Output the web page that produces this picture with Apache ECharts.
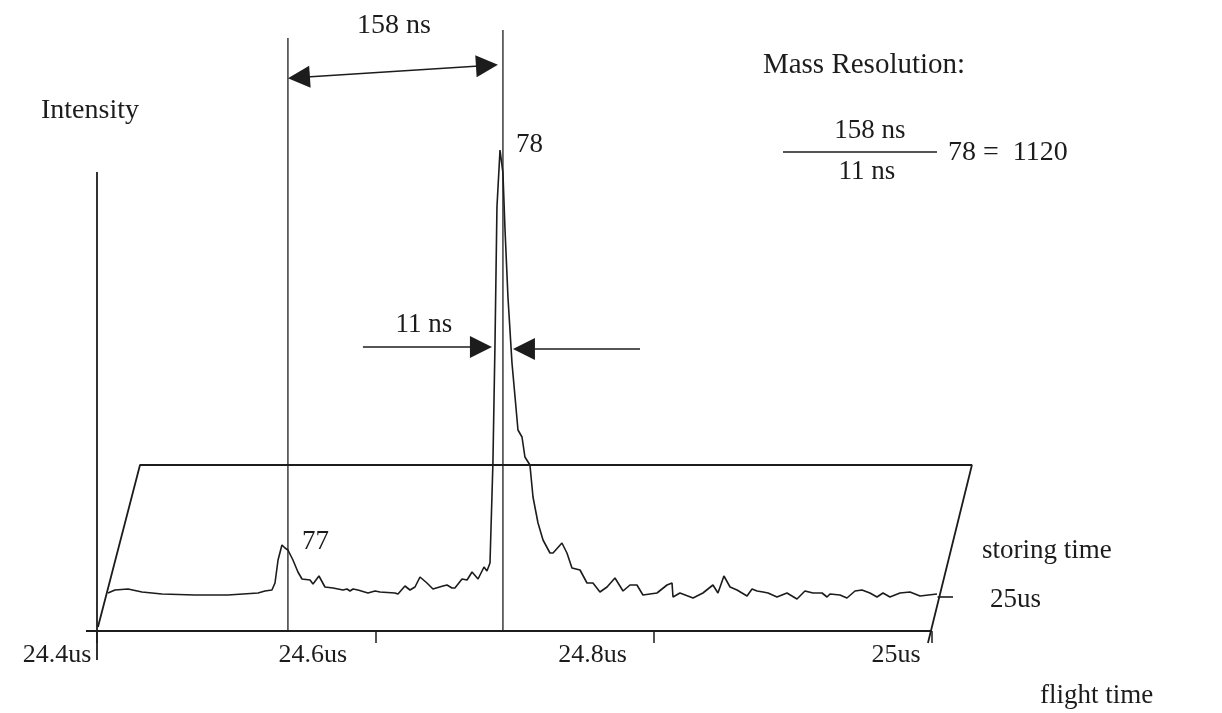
<!DOCTYPE html>
<html><head><meta charset="utf-8">
<script src="https://cdn.jsdelivr.net/npm/echarts@6/dist/echarts.min.js"></script>
<style>html,body{margin:0;padding:0;background:#fff}#c{width:1222px;height:713px}</style>
</head><body><div id="c"></div>
<script>
// ---- data (flight time in us, intensity in arbitrary units) ----
const flightTime = [
  24.4079,24.4129,24.4223,24.4323,24.4467,24.4704,24.4941,24.5157,24.5207,24.5257,
  24.5279,24.5301,24.5329,24.5351,24.5372,24.5408,24.5444,24.5473,24.5480,24.5531,
  24.5552,24.5595,24.5638,24.5696,24.5768,24.5796,24.5818,24.5840,24.5875,24.5947,
  24.5998,24.6034,24.6141,24.6163,24.6213,24.6249,24.6285,24.6321,24.6371,24.6414,
  24.6486,24.6515,24.6551,24.6572,24.6623,24.6659,24.6695,24.6738,24.6781,24.6802,
  24.6824,24.6845,24.6860,24.6874,24.6896,24.6917,24.6932,24.6953,24.6982,24.7004,
  24.7025,24.7054,24.7075,24.7111,24.7133,24.7169,24.7205,24.7255,24.7277,24.7341,
  24.7377,24.7413,24.7471,24.7521,24.7564,24.7614,24.7665,24.7722,24.7780,24.7830,
  24.7880,24.7923,24.8024,24.8096,24.8132,24.8139,24.8189,24.8283,24.8354,24.8426,
  24.8462,24.8505,24.8549,24.8599,24.8671,24.8707,24.8743,24.8786,24.8822,24.8886,
  24.8958,24.9030,24.9087,24.9145,24.9210,24.9246,24.9267,24.9339,24.9389,24.9447,
  24.9497,24.9554,24.9605,24.9648,24.9698,24.9770,24.9842,24.9914,25.0036
];
const intensity = [
  7.6,8.2,8.4,7.8,7.4,7.2,7.2,7.6,8.0,8.2,
  9.6,14.2,17.2,16.6,16.2,14.2,11.8,10.4,10.8,10.2,
  9.4,11.0,8.8,8.6,8.2,8.4,8.0,8.4,8.2,7.6,
  8.0,7.8,7.6,7.4,9.0,8.2,8.8,10.8,9.6,8.4,
  9.0,9.2,8.6,8.6,10.4,10.2,11.8,10.4,12.8,12.0,
  13.6,33.6,57.6,84.8,96.2,91.6,80.2,66.8,53.6,46.8,
  40.2,38.8,34.8,33.2,26.8,21.6,18.2,15.6,15.6,17.6,
  15.6,12.6,12.2,9.6,9.6,7.8,8.8,10.6,8.0,9.2,
  9.2,7.2,7.6,9.2,9.6,6.8,7.6,6.6,7.6,9.2,
  7.6,11.0,8.8,8.2,7.0,8.4,8.0,7.8,7.6,6.8,
  7.6,6.4,8.0,7.6,7.6,6.8,7.4,7.2,6.6,8.0,
  8.2,7.6,6.8,7.6,6.8,7.6,7.8,7.0,7.4
];
const xTicks = [24.4, 24.6, 24.8, 25.0];
const tickLabels = ['24.4us', '24.6us', '24.8us', '25us'];

// pseudo-3D storing-time plane (corners, in axis units)
const frameX = [24.4007, 24.4309, 25.0287, 24.9971];
const frameY = [0.8, 33.2, 33.2, -2.4];
const baselineX = [24.3921, 25.0];
const baselineY = [0, 0];
const intensityAxisX = [24.4, 24.4];
const intensityAxisY = [-5.8, 91.8];
const storingTickX = [25.0040, 25.0151];
const storingTickY = [6.8, 6.8];

// peak marker lines (flight time of the two peaks) and their top ends
const markerTimes = [24.5372, 24.6917];
const markerTops = [118.6, 120.2];

// arrows: [x1, y1, x2, y2] (ends at the centres of the arrowheads)
const arrow158 = [24.5451, 110.7, 24.6802, 113.1];
const arrow11Left = [24.5911, 56.8, 24.6759, 56.8];
const arrow11Right = [24.7902, 56.4, 24.7068, 56.4];

// ---- chart ----
const INK = '#1c1c1c';
const FONT = "'Liberation Serif', 'DejaVu Serif', serif";
const pairs = (xs, ys) => xs.map((x, i) => [x, ys[i]]);
const T = (text, x, y, size, align) => ({
  type: 'text', x: x, y: y, silent: true,
  style: { text: text, fill: INK, font: size + 'px ' + FONT,
           align: align || 'center', textAlign: align || 'center',
           verticalAlign: 'middle', textVerticalAlign: 'middle' }
});
const simpleLine = (data, width, extra) => Object.assign({
  type: 'line', data: data, symbol: 'none', clip: false, silent: true,
  lineStyle: { color: INK, width: width }, z: 2
}, extra || {});
const tickPad = [80, 125, 122, 72];
const tickRich = {};
tickPad.forEach((p, i) => {
  tickRich['t' + i] = { fontSize: 26, fontFamily: FONT, color: INK, padding: [0, p, 0, 0] };
});
const tickIndex = v => {
  let best = 0;
  xTicks.forEach((t, i) => { if (Math.abs(t - v) < Math.abs(xTicks[best] - v)) best = i; });
  return best;
};
const seg = (a, startSymbol) => [
  Object.assign({ coord: [a[0], a[1]] }, startSymbol ? {} : { symbol: 'none' }),
  { coord: [a[2], a[3]] }
];

const chart = echarts.init(document.getElementById('c'), null, { renderer: 'canvas' });
chart.setOption({
  animation: false,
  backgroundColor: '#ffffff',
  grid: { left: 0, right: 0, top: 20, bottom: 82 },
  xAxis: {
    type: 'value', min: 24.3303, max: 25.2084,
    axisLine: { show: false },
    axisTick: { show: true, customValues: xTicks, length: 12, lineStyle: { color: INK, width: 1.5 } },
    axisLabel: {
      customValues: xTicks, margin: 11,
      formatter: v => { const i = tickIndex(v); return '{t' + i + '|' + tickLabels[i] + '}'; },
      rich: tickRich
    },
    splitLine: { show: false }
  },
  yAxis: { type: 'value', min: 0, max: 122.2, show: false },
  graphic: [
    T('158 ns', 394, 26, 28),
    T('Intensity', 90, 111, 28),
    T('Mass Resolution:', 864, 65, 29),
    T('158 ns', 870, 131, 27),
    { type: 'line', silent: true, shape: { x1: 783, y1: 152, x2: 937, y2: 152 },
      style: { stroke: INK, lineWidth: 1.5 } },
    T('11 ns', 867, 172, 27),
    T('78 =  1120', 948, 153, 28, 'left'),
    T('78', 516, 145, 27, 'left'),
    T('11 ns', 424, 325, 27),
    T('77', 302, 542, 27, 'left'),
    T('storing time', 982, 551, 27, 'left'),
    T('25us', 990, 600, 27, 'left'),
    T('flight time', 1040, 696, 27, 'left')
  ],
  series: [
    simpleLine(pairs(intensityAxisX, intensityAxisY), 1.8),
    simpleLine(pairs(baselineX, baselineY), 1.8, {
      markLine: {
        silent: true, animation: false,
        symbol: ['triangle', 'triangle'],
        symbolSize: 22,
        lineStyle: { color: INK, width: 1.6, type: 'solid' },
        label: { show: false },
        data: [
          seg(arrow158, true),
          seg(arrow11Left, false),
          seg(arrow11Right, false)
        ]
      }
    }),
    simpleLine(pairs(frameX, frameY), 1.8),
    simpleLine(pairs(storingTickX, storingTickY), 1.6),
    simpleLine([[markerTimes[0], 0], [markerTimes[0], markerTops[0]]], 1.3),
    simpleLine([[markerTimes[1], 0], [markerTimes[1], markerTops[1]]], 1.3),
    {
      name: 'trace', type: 'line', data: pairs(flightTime, intensity),
      symbol: 'none', clip: false, silent: true, z: 3,
      lineStyle: { color: INK, width: 1.6 }
    }
  ]
});
</script></body></html>
